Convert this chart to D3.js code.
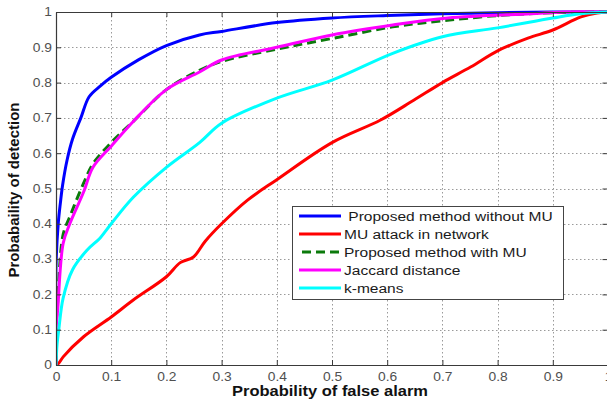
<!DOCTYPE html>
<head>
  <meta charset="utf-8">
  <script src="https://d3js.org/d3.v7.min.js"></script>
  <style>
    body { margin:0; background:#fff; }
    text { font-family: Arial, "Liberation Sans", sans-serif; }
  </style>
</head>
<body>
  <svg width="607" height="403"></svg>
  <script>
    var xTicks = [0, 0.1, 0.2, 0.3, 0.4, 0.5, 0.6, 0.7, 0.8, 0.9, 1];
    var yTicks = [0, 0.1, 0.2, 0.3, 0.4, 0.5, 0.6, 0.7, 0.8, 0.9, 1];

    // [false alarm, detection]
    var withoutMU = [[0,0],[0,0.28],[0.004,0.4],[0.008,0.46],[0.012,0.51],[0.02,0.58],[0.03,0.64],
      [0.045,0.7],[0.06,0.76],[0.08,0.79],[0.1,0.815],[0.15,0.865],[0.2,0.905],[0.26,0.935],
      [0.3,0.945],[0.4,0.97],[0.5,0.983],[0.6,0.99],[0.7,0.995],[0.8,0.998],[0.9,1],[1,1]];
    var muAttack = [[0,0],[0.005,0.005],[0.013,0.023],[0.05,0.08],[0.1,0.136],[0.14,0.184],
      [0.2,0.25],[0.225,0.29],[0.249,0.306],[0.27,0.35],[0.3,0.40],[0.347,0.467],[0.4,0.525],
      [0.5,0.63],[0.588,0.694],[0.648,0.75],[0.7,0.8],[0.751,0.844],[0.8,0.89],[0.855,0.926],
      [0.9,0.949],[0.951,0.986],[0.98,0.997],[1,1]];
    var withMU = [[0,0],[0,0.1],[0.003,0.18],[0.013,0.37],[0.025,0.42],[0.05,0.515],[0.067,0.57],
      [0.1,0.63],[0.14,0.69],[0.2,0.78],[0.26,0.835],[0.3,0.86],[0.4,0.895],[0.5,0.925],
      [0.61,0.958],[0.7,0.975],[0.8,0.99],[0.9,0.998],[1,1]];
    var jaccard = [[0,0],[0,0.1],[0.003,0.156],[0.013,0.345],[0.025,0.40],[0.05,0.49],[0.067,0.56],
      [0.1,0.62],[0.14,0.69],[0.2,0.78],[0.26,0.83],[0.3,0.864],[0.4,0.90],[0.5,0.935],
      [0.61,0.963],[0.71,0.983],[0.86,0.995],[0.92,1],[1,1]];
    var kmeans = [[0,0],[0.002,0.06],[0.005,0.1],[0.013,0.19],[0.03,0.27],[0.056,0.325],[0.08,0.36],
      [0.1,0.4],[0.14,0.475],[0.2,0.56],[0.26,0.63],[0.3,0.685],[0.4,0.756],[0.5,0.807],
      [0.61,0.883],[0.7,0.93],[0.8,0.955],[0.9,0.983],[0.95,0.995],[1,1]];

    var series = [
      {name: " Proposed method without MU", data: withoutMU, color: "#0000ff", dash: null},
      {name: "MU attack in network", data: muAttack, color: "#ff0000", dash: null},
      {name: "Proposed method with MU", data: withMU, color: "#0b7a0b", dash: "9,5"},
      {name: "Jaccard distance", data: jaccard, color: "#ff00ff", dash: null},
      {name: "k-means", data: kmeans, color: "#00ffff", dash: null}
    ];

    var svg = d3.select("svg");
    var pl = 56, pr = 608, pt = 12, pb = 365;
    var sx = 1.15; // text looks horizontally stretched

    var x = d3.scaleLinear().domain([0, 1]).range([pl, pr]);
    var y = d3.scaleLinear().domain([0, 1]).range([pb, pt]);

    // grid
    var grid = svg.append("g")
      .attr("stroke", "#9a9a9a").attr("stroke-width", 1).attr("stroke-dasharray", "1.5,2.5");
    grid.selectAll(".gx").data(xTicks.slice(1, -1)).enter().append("line")
      .attr("x1", function(d) { return Math.round(x(d)) + 0.5; })
      .attr("x2", function(d) { return Math.round(x(d)) + 0.5; })
      .attr("y1", pt).attr("y2", pb);
    grid.selectAll(".gy").data(yTicks.slice(1, -1)).enter().append("line")
      .attr("y1", function(d) { return Math.round(y(d)) + 0.5; })
      .attr("y2", function(d) { return Math.round(y(d)) + 0.5; })
      .attr("x1", pl).attr("x2", pr);

    // curves
    svg.append("clipPath").attr("id", "clip").append("rect")
      .attr("x", pl).attr("y", pt - 2).attr("width", pr - pl).attr("height", pb - pt + 2);

    var line = d3.line()
      .x(function(d) { return x(d[0]); })
      .y(function(d) { return y(d[1]); })
      .curve(d3.curveCatmullRom.alpha(0.5));

    svg.append("g").attr("clip-path", "url(#clip)")
      .selectAll("path").data(series).enter().append("path")
      .attr("d", function(d) { return line(d.data); })
      .attr("fill", "none")
      .attr("stroke", function(d) { return d.color; })
      .attr("stroke-width", 3)
      .attr("stroke-dasharray", function(d) { return d.dash; })
      .attr("stroke-linejoin", "round");

    // axes
    function styleAxis(g) {
      g.select(".domain").attr("stroke", "#3a3a3a").attr("stroke-width", 1.2);
      g.selectAll(".tick line").attr("stroke", "#3a3a3a");
      g.selectAll(".tick text").attr("fill", "#505050").style("font-size", "12px");
    }

    var fmt = function(d) { return d === 0 ? "0" : d === 1 ? "1" : d3.format(".1f")(d); };

    var xAxis = svg.append("g").attr("transform", "translate(0," + pb + ")")
      .call(d3.axisBottom(x).tickValues(xTicks).tickFormat(fmt).tickSizeInner(-5).tickSizeOuter(0).tickPadding(7))
      .call(styleAxis);
    xAxis.selectAll(".tick text").attr("transform", "scale(" + sx + ",1)");

    var yAxis = svg.append("g").attr("transform", "translate(" + pl + ",0)")
      .call(d3.axisLeft(y).tickValues(yTicks).tickFormat(fmt).tickSizeInner(-5).tickSizeOuter(0).tickPadding(3.5))
      .call(styleAxis);
    yAxis.selectAll(".tick text").attr("transform", "scale(" + sx + ",1)");

    svg.append("g").attr("transform", "translate(0," + pt + ")")
      .call(d3.axisTop(x).tickValues(xTicks).tickFormat("").tickSizeInner(-5).tickSizeOuter(0))
      .call(styleAxis);
    svg.append("g").attr("transform", "translate(" + (pr - 0.5) + ",0)")
      .call(d3.axisRight(y).tickValues(yTicks).tickFormat("").tickSizeInner(-5).tickSizeOuter(0))
      .call(styleAxis);

    // axis labels
    svg.append("text")
      .attr("transform", "translate(330,396) scale(1.1,1)")
      .attr("text-anchor", "middle")
      .style("font-size", "15px").style("font-weight", "bold").attr("fill", "#111")
      .text("Probability of false alarm");
    svg.append("text")
      .attr("transform", "translate(19,190) rotate(-90)")
      .attr("text-anchor", "middle")
      .style("font-size", "15px").style("font-weight", "bold").attr("fill", "#111")
      .text("Probabaility of detection");

    // legend
    var lg = svg.append("g");
    lg.append("rect").attr("x", 292.5).attr("y", 206.5).attr("width", 271).attr("height", 93)
      .attr("fill", "#fff").attr("stroke", "#444").attr("stroke-width", 1);
    var items = lg.selectAll(".item").data(series).enter().append("g")
      .attr("transform", function(d, i) { return "translate(0," + (216 + i * 18) + ")"; });
    items.append("line")
      .attr("x1", function(d) { return d.dash ? 302 : 299; }).attr("x2", 341)
      .attr("stroke", function(d) { return d.color; })
      .attr("stroke-width", 3)
      .attr("stroke-dasharray", function(d) { return d.dash; });
    items.append("text")
      .attr("transform", "translate(344,5) scale(" + sx + ",1)")
      .attr("xml:space", "preserve")
      .style("font-size", "13.5px").attr("fill", "#1a1a1a")
      .text(function(d) { return d.name; });
  </script>
</body>
